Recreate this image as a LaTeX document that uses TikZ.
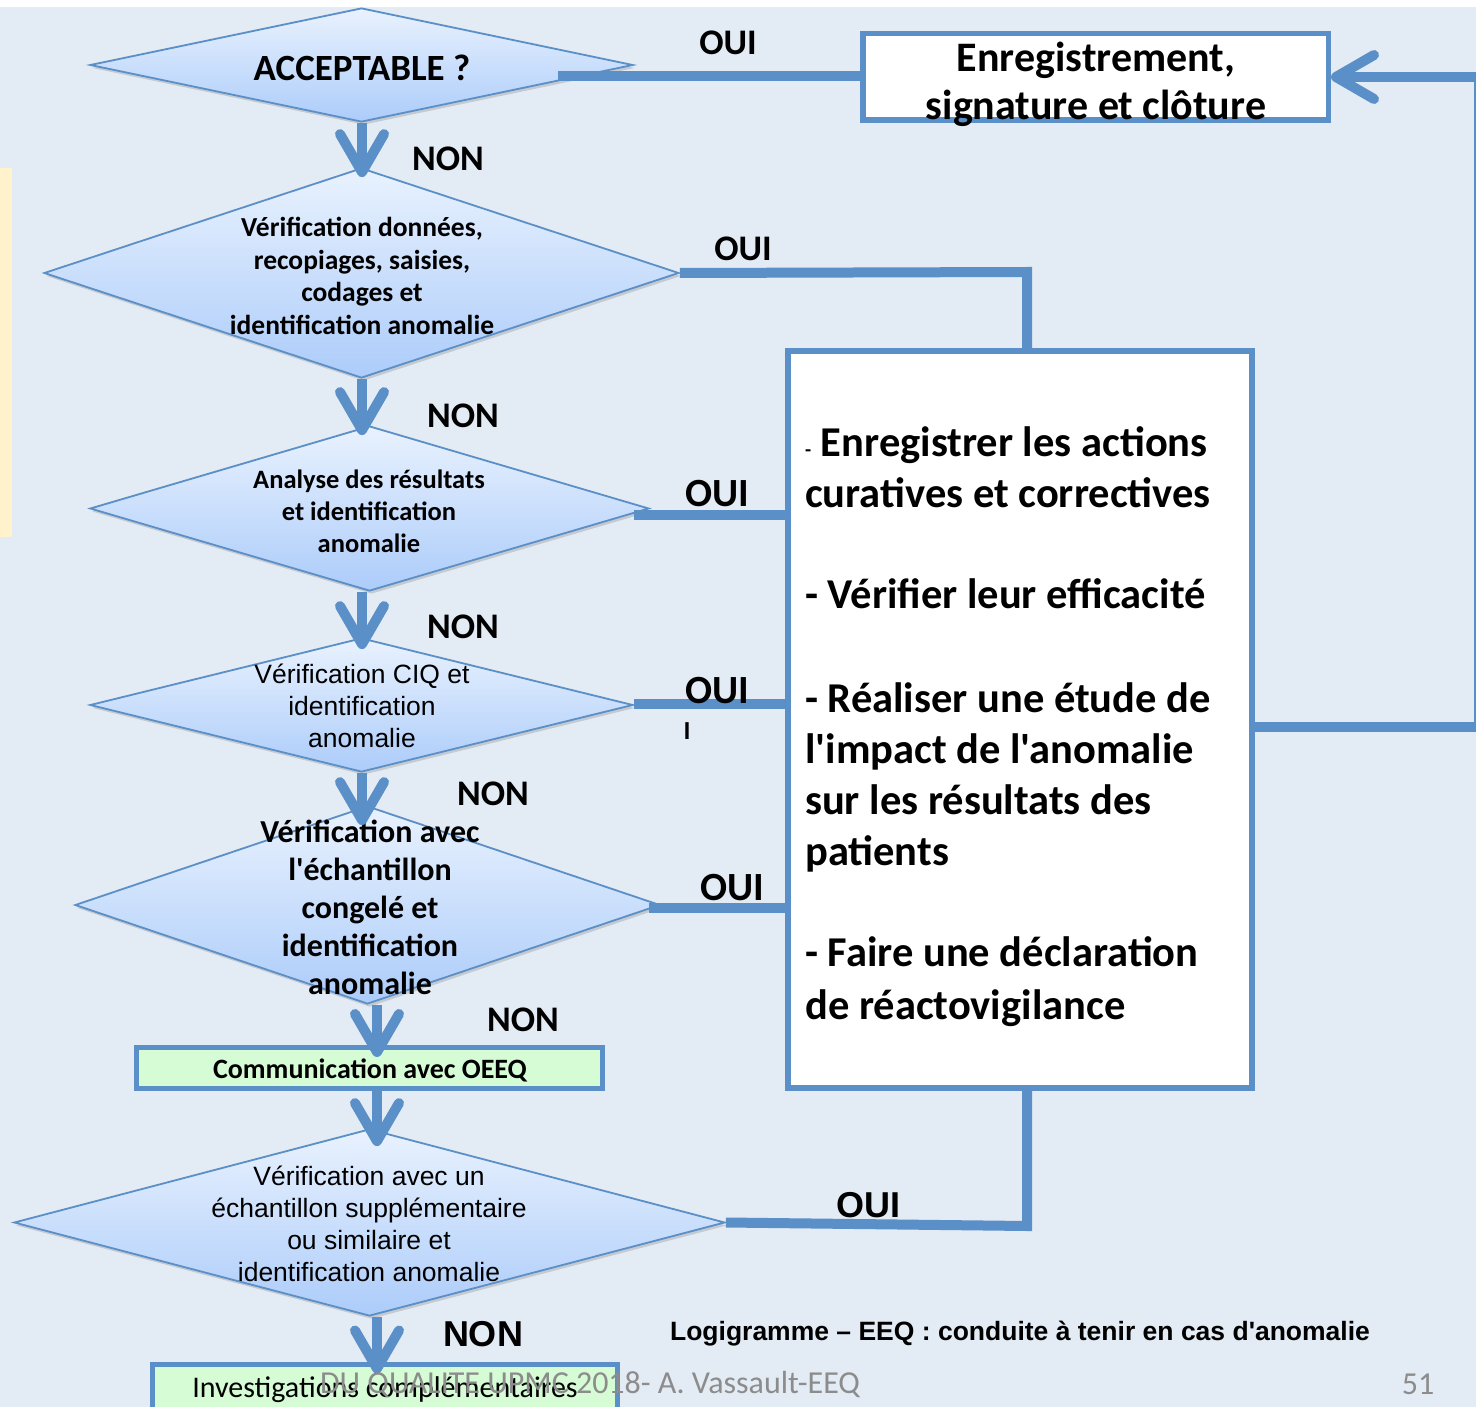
\documentclass[tikz,border=0pt]{standalone}
\usepackage{fontspec}
\setmainfont{Carlito}[Ligatures=TeXOff]
\newfontfamily\arialf{Liberation Sans}[Ligatures=TeXOff]
\usetikzlibrary{shapes.geometric,arrows.meta,shadows}
\definecolor{bgc}{RGB}{227,235,244}
\definecolor{lblue}{RGB}{91,143,199}
\definecolor{dtop}{RGB}{233,242,254}
\definecolor{dbot}{RGB}{172,204,250}
\definecolor{gfill}{RGB}{214,252,213}
\definecolor{ystripe}{RGB}{255,242,204}
\definecolor{fgray}{RGB}{140,140,140}
\newcommand\fsz[2]{\fontsize{#1}{#2}\selectfont}
\begin{document}
\begin{tikzpicture}[x=1pt,y=-1pt,
  dia/.style={diamond, draw=lblue, line width=1.8pt, top color=dtop, bottom color=dbot, inner sep=0pt,
    drop shadow={shadow xshift=2pt, shadow yshift=-3pt, opacity=.3, fill=black!50}},
  wbox/.style={rectangle, draw=lblue, line width=5.5pt, fill=white, inner sep=0pt},
  gbox/.style={rectangle, draw=lblue, line width=5pt, fill=gfill, inner sep=0pt},
  conn/.style={draw=lblue, line width=10pt},
  arr/.style={conn, -{Straight Barb[length=38pt,width=44pt,round]}},
  lbl/.style={font=\bfseries\fsz{36}{40}, inner sep=0pt},
  lblL/.style={font=\bfseries\fsz{40}{44}, inner sep=0pt},
  lblA/.style={font=\arialf\bfseries\fsz{36}{40}, inner sep=0pt},
  dtxt/.style={align=center, inner sep=0pt},
  btxt/.style={font=\bfseries\fsz{42.5}{50}, anchor=base west, inner sep=0pt},
]
\useasboundingbox (0,0) rectangle (1476,1407);
\fill[white] (0,0) rectangle (1476,7);
\fill[bgc] (0,7) rectangle (1476,1407);
\fill[ystripe] (0,168) rectangle (12,537);

% helper coordinates
\coordinate (ax1) at (362,0);
\coordinate (ax2) at (377,0);
\coordinate (c1s) at (558,76);
\coordinate (j2) at (1027,272);
\coordinate (c3s) at (634,515);
\coordinate (c4s) at (634,704);
\coordinate (c5s) at (649,908);
\coordinate (j6) at (1027,1226);
\coordinate (j7) at (1479,727);

% diamonds
\node[dia, minimum width=543pt, minimum height=114pt] (d1) at (361.5,65) {};
\node[dia, minimum width=635pt, minimum height=210pt] (d2) at (361.5,273) {};
\node[dia, minimum width=559pt, minimum height=165pt] (d3) at (369.5,508.5) {};
\node[dia, minimum width=543pt, minimum height=134pt] (d4) at (361.5,705) {};
\node[dia, minimum width=585pt, minimum height=198pt] (d5) at (367.5,905) {};
\node[dia, minimum width=711pt, minimum height=187pt] (d6) at (369.5,1222.5) {};

% boxes
\node[wbox, minimum width=465.5pt, minimum height=86.5pt] (enr) at (1095.5,77) {};
\node[wbox, line width=6pt, minimum width=464pt, minimum height=737pt] (big) at (1020,719.5) {};
\node[gbox, minimum width=466pt, minimum height=41pt] (g1) at (369.5,1068) {};
\node[gbox, minimum width=465pt, minimum height=60pt] (g2) at (385,1394) {};

% texts in shapes
\node[font=\bfseries\fsz{37}{44}, inner sep=0pt] (t1) at (362,68) {ACCEPTABLE ?};
\node[dtxt, font=\bfseries\fsz{27.5}{32.7}] (t2) at (362,276) {Vérification données,\\recopiages, saisies,\\codages et\\identification anomalie};
\node[dtxt, font=\bfseries\fsz{26.5}{32}] (t3) at (369,511) {Analyse des résultats\\et identification\\anomalie};
\node[dtxt, font=\arialf\fsz{26.5}{32}] (t4) at (362,706) {Vérification CIQ et\\identification\\anomalie};
\node[dtxt, font=\bfseries\fsz{32}{38}] (t5) at (370,907) {Vérification avec\\l'échantillon\\congelé et\\identification\\anomalie};
\node[dtxt, font=\arialf\fsz{26.5}{32}] (t6) at (369,1224) {Vérification avec un\\échantillon supplémentaire\\ou similaire et\\identification anomalie};
\node[dtxt, font=\bfseries\fsz{42}{48}] (te) at (1096,84) {Enregistrement,\\signature et clôture};
\node[font=\bfseries\fsz{28}{32}, inner sep=0pt] (tg1) at (370,1070) {Communication avec OEEQ};
\node[font=\fsz{30}{34}, inner sep=0pt] (tg2) at (385,1390) {Investigations complémentaires};

% big box text
\node[btxt] (b1) at (805,456) {{\fsz{20}{24}-} Enregistrer les actions};
\node[btxt] (b2) at (805,507) {curatives et correctives};
\node[btxt] (b3) at (805,608) {- Vérifier leur efficacité};
\node[btxt] (b4) at (805,712) {- Réaliser une étude de};
\node[btxt] (b5) at (805,763) {l'impact de l'anomalie};
\node[btxt] (b6) at (805,814) {sur les résultats des};
\node[btxt] (b7) at (805,865) {patients};
\node[btxt] (b8) at (805,966) {- Faire une déclaration};
\node[btxt] (b9) at (805,1019) {de réactovigilance};

% OUI connectors
\draw[conn] (c1s) -- (c1s -| enr.west);
\draw[conn] (d2.east) -- (j2) -- (j2 |- big.north);
\draw[conn] (c3s) -- (c3s -| big.west);
\draw[conn] (c4s) -- (c4s -| big.west);
\draw[conn] (c5s) -- (c5s -| big.west);
\draw[conn] (d6.east) -- (j6) -- (j6 |- big.south);
\draw[conn] (big.east |- j7) -- (j7) -- (j7 |- enr.east);
\draw[arr] (j7 |- enr.east) -- (enr.east);

% NON arrows
\draw[arr, shorten >=-10pt] (d1.south -| ax1) -- (d2.north -| ax1);
\draw[arr, shorten >=-10pt] (d2.south -| ax1) -- (d3.north -| ax1);
\draw[arr, shorten >=-12pt] (d3.south -| ax1) -- (d4.north -| ax1);
\draw[arr, shorten >=-20pt] (d4.south -| ax1) -- (d5.north -| ax1);
\draw[arr, shorten >=-12pt] (d5.south -| ax2) -- (g1.north -| ax2);
\draw[arr, shorten >=-18pt] (g1.south -| ax2) -- (d6.north -| ax2);
\draw[arr, shorten >=-12pt] (d6.south -| ax2) -- (g2.north -| ax2);

% labels
\node[lbl] (o1) at (728,43) {OUI};
\node[lbl] (n1) at (448,159) {NON};
\node[lbl] (o2) at (743,249) {OUI};
\node[lbl] (n2) at (463,416) {NON};
\node[lblL] (o3) at (717,494) {OUI};
\node[lbl] (n3) at (463,627) {NON};
\node[lblL] (o4) at (717,691) {OUI};
\node[font=\bfseries\fsz{26}{30}, inner sep=0pt] (i4) at (687,731) {I};
\node[lbl] (n4) at (493,794) {NON};
\node[lblL] (o5) at (732,888) {OUI};
\node[lbl] (n5) at (523,1020) {NON};
\node[lblA] (o6) at (868,1205) {OUI};
\node[lblA] (n6) at (483,1334) {NON};

% caption and footer
\node[font=\arialf\bfseries\fsz{26.5}{30}, anchor=base, inner sep=0pt] (cap) at (1020,1340) {Logigramme – EEQ : conduite à tenir en cas d'anomalie};
\node[font=\fsz{32}{36}, text=fgray, inner sep=0pt] (ft) at (590,1384) {DU QUALITE UPMC 2018- A. Vassault-EEQ};
\node[font=\fsz{32}{36}, text=fgray, inner sep=0pt] (pg) at (1418,1384) {51};
\end{tikzpicture}
\end{document}
